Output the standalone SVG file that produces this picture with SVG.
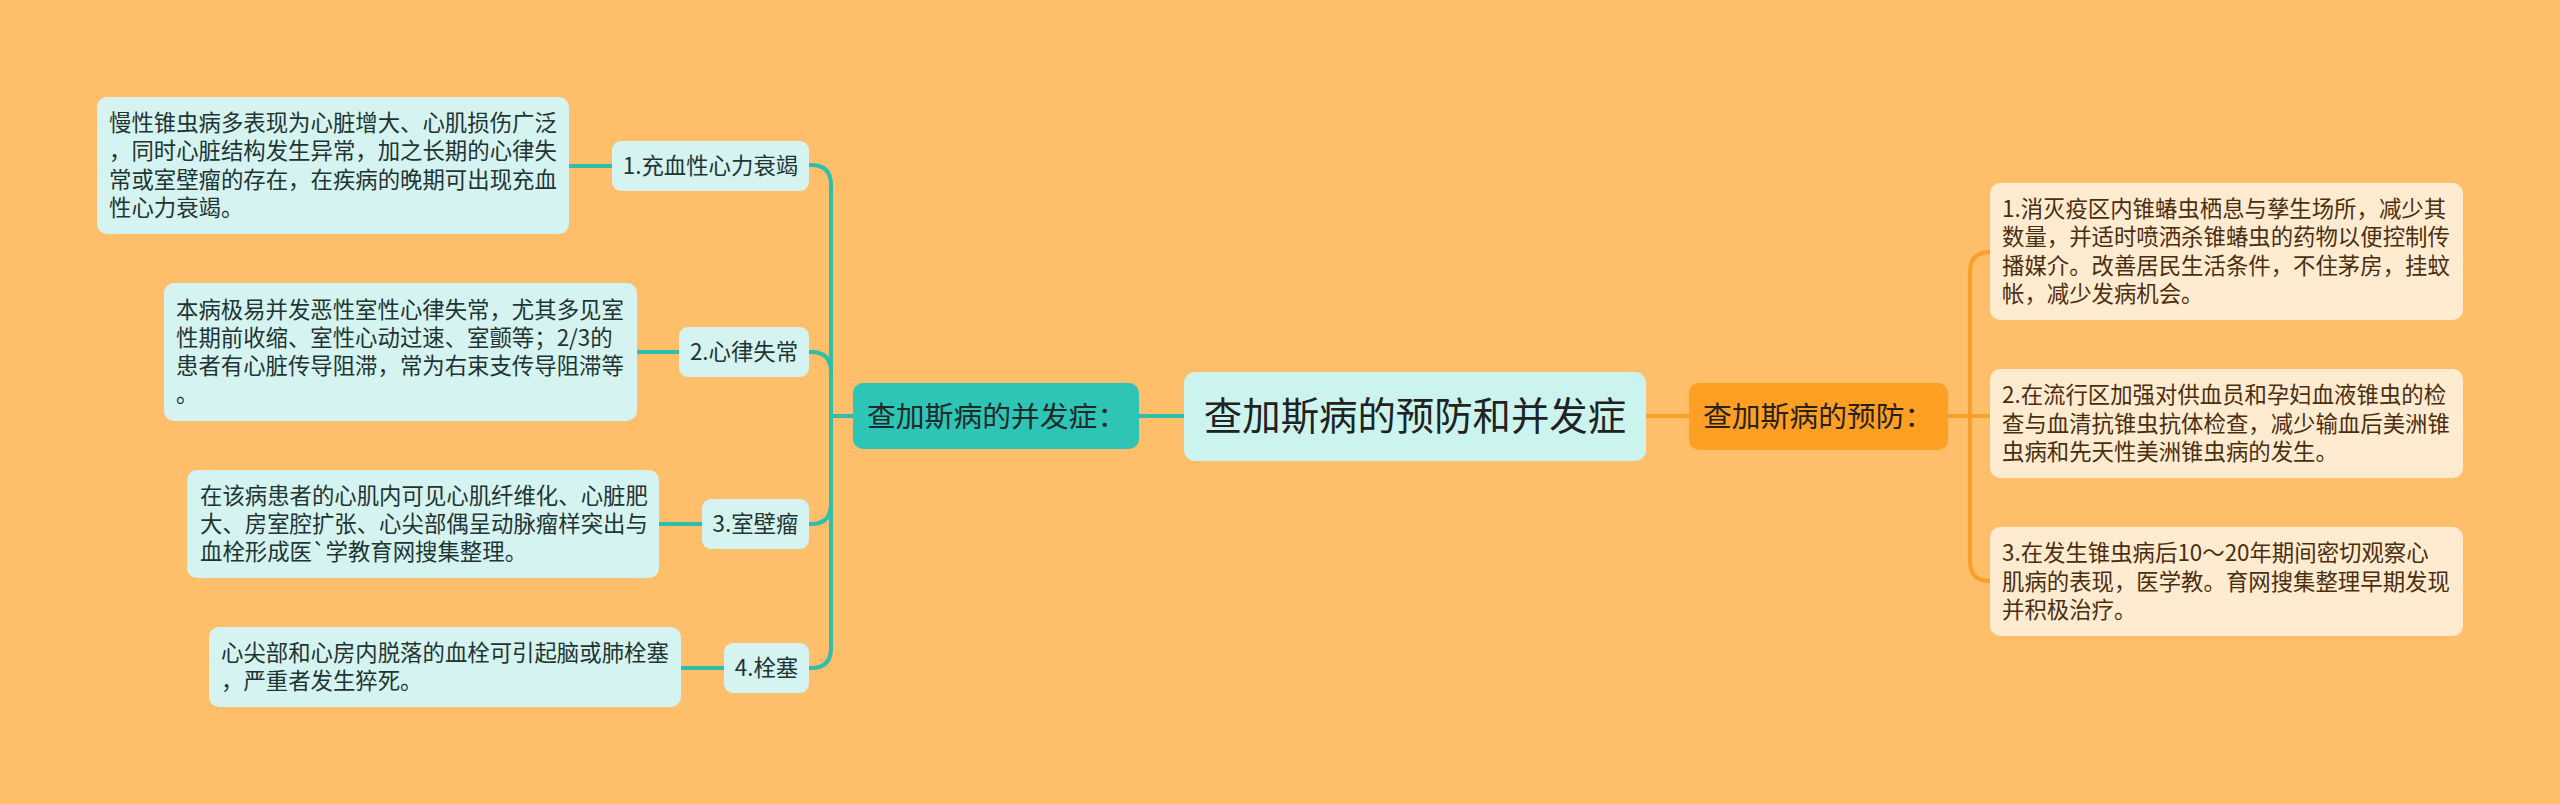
<svg xmlns="http://www.w3.org/2000/svg" width="2560" height="804" viewBox="0 0 2560 804">
<defs>
<style>
.t{font-family:"Noto Sans CJK SC","Noto Sans",sans-serif;}
.leafL rect{fill:#d5f3f0;}
.leafL text{font-size:22.4px;fill:#1f3433;}
.sub rect{fill:#d5f3f0;}
.sub text{font-size:22.4px;fill:#1f3433;text-anchor:middle;}
.leafR rect{fill:#ffebcf;}
.leafR text{font-size:22.4px;fill:#4a2e10;}
.cl{fill:none;stroke:#2fbdac;stroke-width:4;}
.cr{fill:none;stroke:#f8a02a;stroke-width:4;}
</style>
</defs>
<rect x="0" y="0" width="2560" height="804" fill="#ffbe69"/>
<g id="connectors">
<path class="cl" d="M1139 416 H1184"/>
<path class="cr" d="M1646 416 H1689"/>
<path class="cl" d="M853 416 H831 V185 Q831 165 811 165 H809"/>
<path class="cl" d="M853 416 H831 V372 Q831 352 811 352 H809"/>
<path class="cl" d="M853 416 H831 V504 Q831 524 811 524 H809"/>
<path class="cl" d="M853 416 H831 V648 Q831 668 811 668 H809"/>
<path class="cl" d="M569 166 H612"/>
<path class="cl" d="M637 352 H679"/>
<path class="cl" d="M659 524 H702"/>
<path class="cl" d="M681 668 H724"/>
<path class="cr" d="M1948 416 H1970 V272 Q1970 252 1990 252"/>
<path class="cr" d="M1948 416 H1990"/>
<path class="cr" d="M1948 416 H1970 V561 Q1970 581 1990 581"/>
</g>
<g id="root" class="t">
<rect x="1184" y="372" width="462" height="89" rx="11" fill="#ccf4ef"/>
<text x="1415" y="430" font-size="38.4" fill="#222" text-anchor="middle">查加斯病的预防和并发症</text>
</g>
<g id="left-main" class="t">
<rect x="853" y="383" width="286" height="66" rx="10" fill="#2ec4b6"/>
<text x="867" y="427" font-size="28.8" fill="#1f2a2a">查加斯病的并发症：</text>
</g>
<g id="right-main" class="t">
<rect x="1689" y="383" width="259" height="67" rx="10" fill="#ffa024"/>
<text x="1703" y="427" font-size="28.8" fill="#2a2218">查加斯病的预防：</text>
</g>
<g id="sub1" class="t sub">
<rect x="612" y="141" width="197" height="50" rx="9"/>
<text x="710.5" y="174">1.充血性心力衰竭</text>
</g>
<g id="sub2" class="t sub">
<rect x="679" y="327" width="130" height="50" rx="9"/>
<text x="744" y="360">2.心律失常</text>
</g>
<g id="sub3" class="t sub">
<rect x="702" y="499" width="107" height="50" rx="9"/>
<text x="755.5" y="532">3.室壁瘤</text>
</g>
<g id="sub4" class="t sub">
<rect x="724" y="643" width="85" height="50" rx="9"/>
<text x="766.5" y="676">4.栓塞</text>
</g>
<g id="leaf1" class="t leafL">
<rect x="97" y="97" width="472" height="137" rx="10"/>
<text x="109" y="131">慢性锥虫病多表现为心脏增大、心肌损伤广泛</text>
<text x="109" y="159.3">，同时心脏结构发生异常，加之长期的心律失</text>
<text x="109" y="187.6">常或室壁瘤的存在，在疾病的晚期可出现充血</text>
<text x="109" y="215.9">性心力衰竭。</text>
</g>
<g id="leaf2" class="t leafL">
<rect x="164" y="283" width="473" height="138" rx="10"/>
<text x="176" y="317.5">本病极易并发恶性室性心律失常，尤其多见室</text>
<text x="176" y="345.8">性期前收缩、室性心动过速、室颤等；2/3的</text>
<text x="176" y="374.1">患者有心脏传导阻滞，常为右束支传导阻滞等</text>
<text x="176" y="402.4">。</text>
</g>
<g id="leaf3" class="t leafL">
<rect x="187" y="470" width="472" height="108" rx="10"/>
<text x="200" y="503.7">在该病患者的心肌内可见心肌纤维化、心脏肥</text>
<text x="200" y="532">大、房室腔扩张、心尖部偶呈动脉瘤样突出与</text>
<text x="200" y="560.3">血栓形成医`学教育网搜集整理。</text>
</g>
<g id="leaf4" class="t leafL">
<rect x="209" y="627" width="472" height="80" rx="10"/>
<text x="221" y="660.8">心尖部和心房内脱落的血栓可引起脑或肺栓塞</text>
<text x="221" y="689.1">，严重者发生猝死。</text>
</g>
<g id="leafR1" class="t leafR">
<rect x="1990" y="183" width="473" height="137" rx="10"/>
<text x="2002" y="217">1.消灭疫区内锥蝽虫栖息与孳生场所，减少其</text>
<text x="2002" y="245.3">数量，并适时喷洒杀锥蝽虫的药物以便控制传</text>
<text x="2002" y="273.6">播媒介。改善居民生活条件，不住茅房，挂蚊</text>
<text x="2002" y="301.9">帐，减少发病机会。</text>
</g>
<g id="leafR2" class="t leafR">
<rect x="1990" y="369" width="473" height="109" rx="10"/>
<text x="2002" y="403.2">2.在流行区加强对供血员和孕妇血液锥虫的检</text>
<text x="2002" y="431.5">查与血清抗锥虫抗体检查，减少输血后美洲锥</text>
<text x="2002" y="459.8">虫病和先天性美洲锥虫病的发生。</text>
</g>
<g id="leafR3" class="t leafR">
<rect x="1990" y="527" width="473" height="109" rx="10"/>
<text x="2002" y="561.2">3.在发生锥虫病后10～20年期间密切观察心</text>
<text x="2002" y="589.5">肌病的表现，医学教。育网搜集整理早期发现</text>
<text x="2002" y="617.8">并积极治疗。</text>
</g>
</svg>
